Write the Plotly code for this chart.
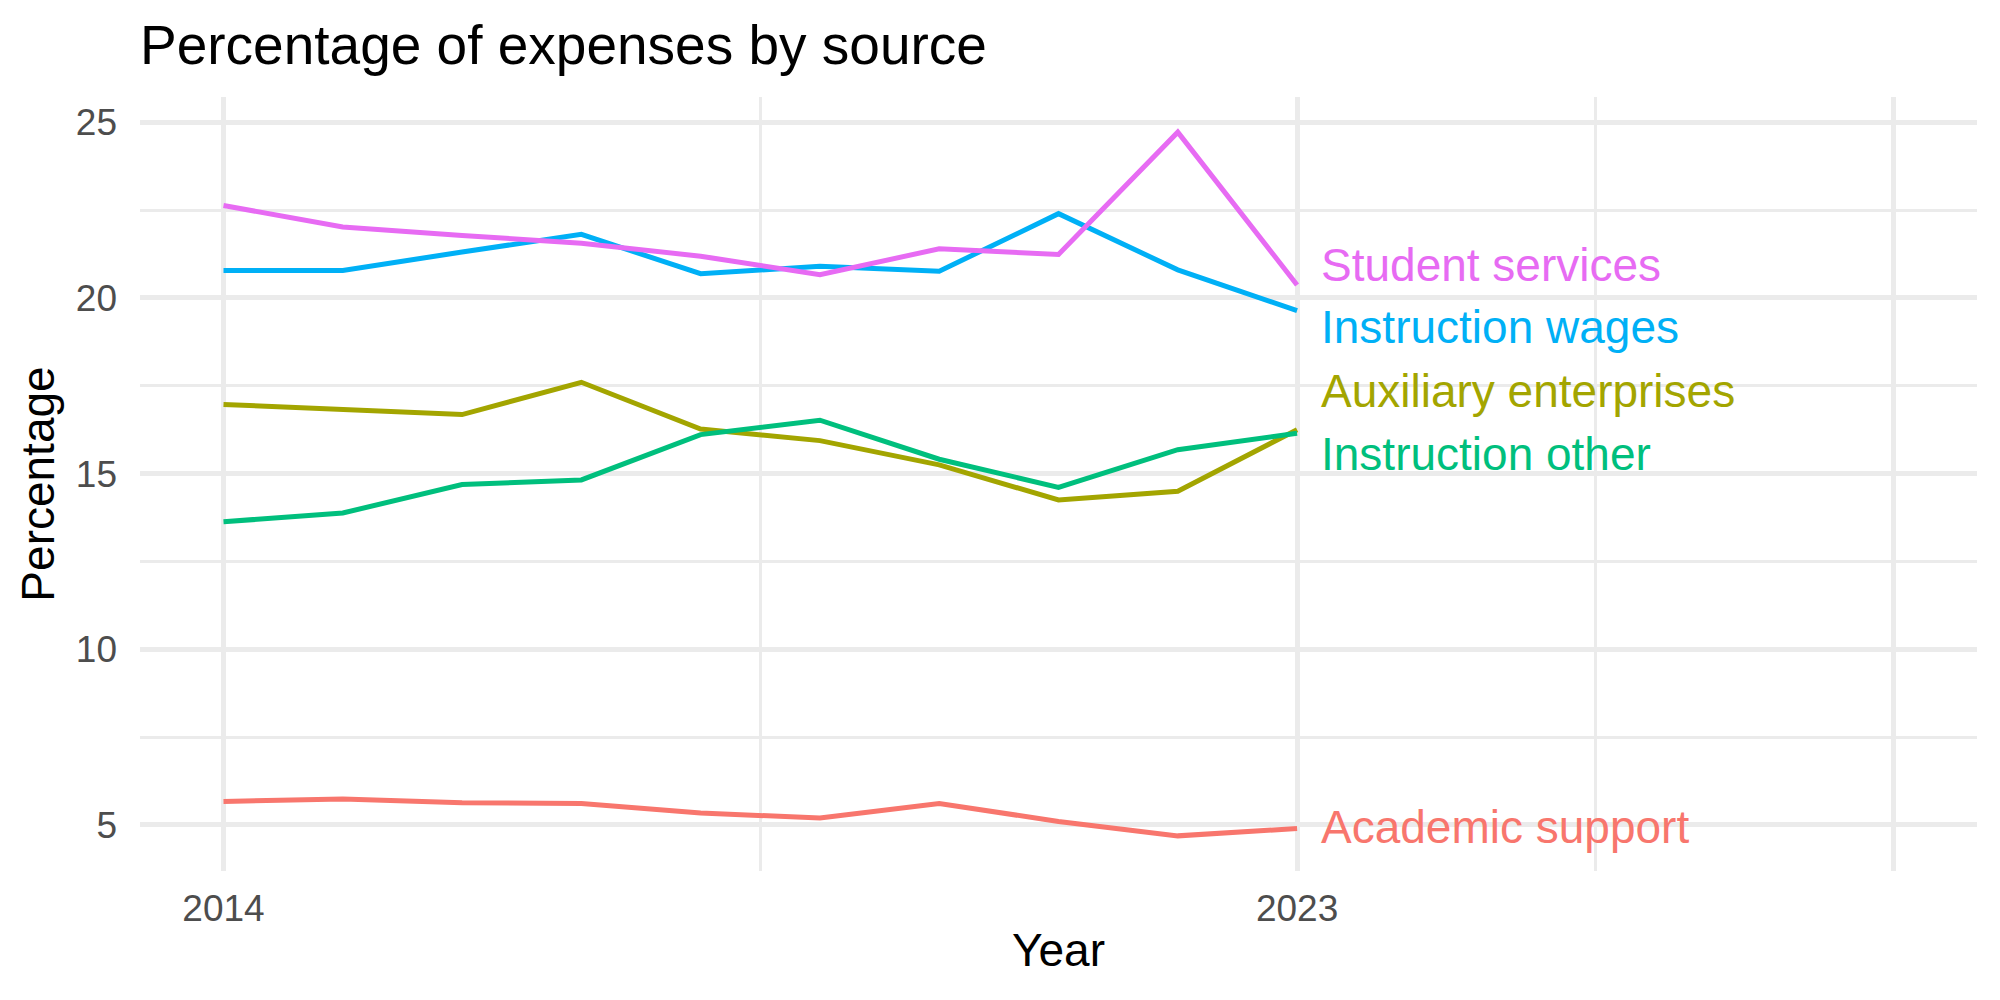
import plotly.graph_objects as go

years = [2014, 2015, 2016, 2017, 2018, 2019, 2020, 2021, 2022, 2023]

series_names = ["Academic support", "Auxiliary enterprises", "Instruction other",
                "Instruction wages", "Student services"]
academic_support = [5.67, 5.74, 5.63, 5.61, 5.34, 5.20, 5.61, 5.10, 4.69, 4.90]
auxiliary_enterprises = [16.97, 16.82, 16.68, 17.60, 16.27, 15.94, 15.25, 14.25, 14.50, 16.25]
instruction_other = [13.63, 13.88, 14.69, 14.82, 16.11, 16.52, 15.41, 14.61, 15.68, 16.15]
instruction_wages = [20.78, 20.78, 21.31, 21.81, 20.69, 20.90, 20.76, 22.40, 20.80, 19.64]
student_services = [22.63, 22.02, 21.78, 21.56, 21.19, 20.66, 21.40, 21.24, 24.72, 20.37]
values = [academic_support, auxiliary_enterprises, instruction_other,
          instruction_wages, student_services]
colors = ["#F8766D", "#A3A500", "#00BF7D", "#00B0F6", "#E76BF3"]

# repelled label positions (y) at the end of each line
label_y = [4.95, 17.34, 15.55, 19.16, 20.95]
label_x = 2023.18

x_ticks = [2014, 2023, 2028]
x_ticktext = ["2014", "2023", ""]
x_minor = [2018.5, 2025.5]
y_ticks = [5, 10, 15, 20, 25]
y_minor = [7.5, 12.5, 17.5, 22.5]

FONT = "Liberation Sans, Arial, Helvetica, sans-serif"
GRID = "#EBEBEB"

fig = go.Figure()
for name, vals, col in zip(series_names, values, colors):
    fig.add_trace(go.Scatter(x=years, y=vals, mode="lines", name=name,
                             line=dict(color=col, width=5), showlegend=False))

for name, ly, col in zip(series_names, label_y, colors):
    fig.add_annotation(x=label_x, y=ly, text=name, showarrow=False,
                       xanchor="left", yanchor="middle",
                       font=dict(family=FONT, size=46, color=col))

fig.update_layout(
    width=2000, height=1000,
    paper_bgcolor="white", plot_bgcolor="white",
    margin=dict(l=140, r=23, t=97, b=129),
    title=dict(text="Percentage of expenses by source", x=0.07, xanchor="left",
               y=0.955, yanchor="middle", xref="container", yref="container",
               font=dict(family=FONT, size=55, color="black")),
    font=dict(family=FONT),
)
fig.update_xaxes(
    range=[2013.3, 2028.7], tickvals=x_ticks, ticktext=x_ticktext,
    showgrid=True, gridcolor=GRID, gridwidth=5, zeroline=False, showline=False,
    ticks="", ticklabelstandoff=12,
    tickfont=dict(family=FONT, size=37, color="#4D4D4D"),
    minor=dict(tickvals=x_minor, showgrid=True, gridcolor=GRID, gridwidth=2.5),
    title=dict(text="Year", font=dict(family=FONT, size=46, color="black"), standoff=5),
)
fig.update_yaxes(
    range=[3.69, 25.72], tickvals=y_ticks,
    showgrid=True, gridcolor=GRID, gridwidth=5, zeroline=False, showline=False,
    ticks="", ticklabelstandoff=22,
    tickfont=dict(family=FONT, size=37, color="#4D4D4D"),
    minor=dict(tickvals=y_minor, showgrid=True, gridcolor=GRID, gridwidth=2.5),
    title=dict(text="Percentage", font=dict(family=FONT, size=46, color="black"), standoff=6),
)

fig.write_html("out.html")
